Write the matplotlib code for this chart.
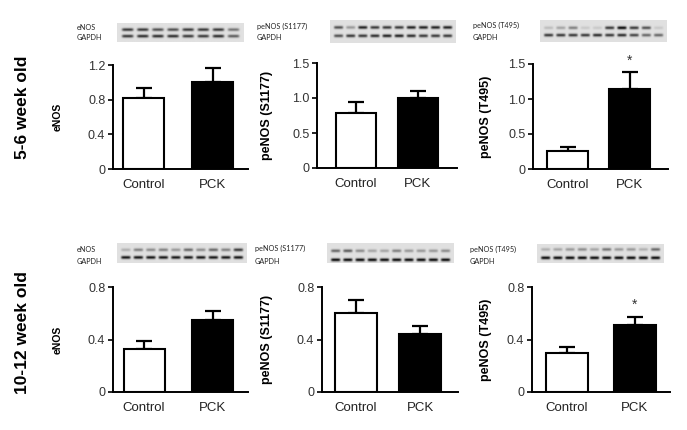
import numpy as np
import matplotlib
matplotlib.use("Agg")
import matplotlib.pyplot as plt

plt.rcParams['font.family'] = ['Liberation Sans', 'DejaVu Sans']

# ---------------- data ----------------
categories = ['Control', 'PCK']

enos_5_6 = [0.82, 1.00]
enos_5_6_err = [0.12, 0.16]
s1177_5_6 = [0.78, 1.00]
s1177_5_6_err = [0.16, 0.10]
t495_5_6 = [0.26, 1.14]
t495_5_6_err = [0.06, 0.25]

enos_10_12 = [0.33, 0.545]
enos_10_12_err = [0.06, 0.075]
s1177_10_12 = [0.60, 0.44]
s1177_10_12_err = [0.10, 0.06]
t495_10_12 = [0.30, 0.51]
t495_10_12_err = [0.04, 0.06]

ylabels = ['eNOS', 'peNOS (S1177)', 'peNOS (T495)']
row_labels = ['5-6 week old', '10-12 week old']
blot_labels = [['eNOS', 'GAPDH'], ['peNOS (S1177)', 'GAPDH'], ['peNOS (T495)', 'GAPDH']]

# band intensities (darkness) per lane
blot_tl_top = [0.70, 0.70, 0.60, 0.60, 0.70, 0.70, 0.70, 0.45]
blot_tl_gapdh = [0.70, 0.75, 0.75, 0.75, 0.70, 0.70, 0.75, 0.55]
blot_tm_top = [0.60, 0.30, 0.80, 0.70, 0.70, 0.70, 0.80, 0.80, 0.80, 0.80]
blot_tm_gapdh = [0.60, 0.70, 0.70, 0.75, 0.80, 0.80, 0.75, 0.70, 0.70, 0.70]
blot_tr_top = [0.15, 0.25, 0.40, 0.10, 0.10, 0.70, 0.90, 0.70, 0.60, 0.10]
blot_tr_gapdh = [0.70, 0.70, 0.70, 0.70, 0.75, 0.70, 0.75, 0.65, 0.50, 0.50]
blot_bl_top = [0.20, 0.40, 0.35, 0.40, 0.30, 0.50, 0.35, 0.50, 0.40, 0.70]
blot_bl_gapdh = [0.85, 0.85, 0.85, 0.85, 0.85, 0.85, 0.85, 0.85, 0.85, 0.85]
blot_bm_top = [0.50, 0.55, 0.35, 0.25, 0.25, 0.40, 0.30, 0.30, 0.30, 0.35]
blot_bm_gapdh = [0.90, 0.90, 0.90, 0.90, 0.90, 0.90, 0.90, 0.90, 0.90, 0.90]
blot_br_top = [0.20, 0.25, 0.30, 0.35, 0.25, 0.45, 0.30, 0.30, 0.20, 0.50]
blot_br_gapdh = [0.90, 0.90, 0.90, 0.90, 0.90, 0.90, 0.90, 0.90, 0.90, 0.90]

# ---------------- layout helpers ----------------
W, H = 687, 430
fig = plt.figure(figsize=(W / 100, H / 100), dpi=100)


def rect(x0, y0, x1, y1):
    return [x0 / W, 1 - y1 / H, (x1 - x0) / W, (y1 - y0) / H]


def bar_panel(ax_px, c0, c1, bw, vals, errs, ylim, yticks, yticklabels,
              ylabel, ylabel_dx, ylabel_size, star=None):
    x0, y0, x1, y1 = ax_px
    ax = fig.add_axes(rect(x0, y0, x1, y1))
    sep = c1 - c0
    ax.set_xlim(-(c0 - x0) / sep, 1 + (x1 - c1) / sep)
    ax.set_ylim(*ylim)
    xs = np.arange(len(categories))
    ax.bar(xs, vals, width=bw / sep, color=['white', 'black'],
           edgecolor='black', linewidth=1.5, zorder=2)
    ax.errorbar(xs, vals, yerr=[np.zeros(len(vals)), errs], fmt='none',
                ecolor='black', elinewidth=1.6, capsize=6, capthick=1.6, zorder=1)
    for s in ['top', 'right']:
        ax.spines[s].set_visible(False)
    for s in ['left', 'bottom']:
        ax.spines[s].set_linewidth(1.4)
    ax.set_yticks(yticks)
    ax.set_yticklabels(yticklabels, fontsize=9, color='#333333')
    ax.tick_params(axis='y', length=3.5, width=1.2, pad=2)
    ax.set_xticks(xs)
    ax.set_xticklabels(categories, fontsize=9.5, color='#222222')
    ax.tick_params(axis='x', length=0, pad=7)
    ax.set_ylabel(ylabel, fontsize=ylabel_size, fontweight='bold')
    ax.yaxis.set_label_coords(-ylabel_dx / (x1 - x0), 0.5)
    if star is not None:
        ax.text(1, star, '*', ha='center', va='center', fontsize=10,
                color='#333333', clip_on=False)
    return ax


def blot(blot_px, top, gapdh, top_y, gapdh_y):
    x0, y0, x1, y1 = blot_px
    ax = fig.add_axes(rect(x0, y0, x1, y1))
    ax.set_axis_off()
    ww, hh = (x1 - x0) * 4, (y1 - y0) * 4
    img = np.full((hh, ww), 0.88)
    xx = np.arange(ww)[None, :]
    yy = np.arange(hh)[:, None]
    n = len(top)
    lane_w = ww / (n + 0.4)
    for band, yc in ((top, top_y), (gapdh, gapdh_y)):
        ycp = (yc - y0) * 4
        for i, d in enumerate(band):
            cx = lane_w * (0.7 + i)
            prof_x = np.exp(-((xx - cx) / (lane_w * 0.38)) ** 6)
            prof_y = np.exp(-((yy - ycp) / 6.0) ** 2)
            img -= 0.95 * d * prof_x * prof_y
    img = np.clip(img, 0, 1)
    ax.imshow(img, cmap='gray', vmin=0, vmax=1, aspect='auto',
              interpolation='bilinear')
    return ax


def blot_text(x, y, s):
    fig.text(x / W, 1 - y / H, s, fontsize=5.2, ha='left', va='center',
             family=['Lato', 'DejaVu Sans'], color='#222222')


# ---------------- row 1 ----------------
blot((117, 23, 243, 42), blot_tl_top, blot_tl_gapdh, 29.5, 36)
blot((330, 20, 456, 43), blot_tm_top, blot_tm_gapdh, 27.3, 35.7)
blot((540, 20, 667, 42), blot_tr_top, blot_tr_gapdh, 27.7, 35)
blot_text(77, 27, blot_labels[0][0]); blot_text(77, 38, blot_labels[0][1])
blot_text(257, 26, blot_labels[1][0]); blot_text(257, 37, blot_labels[1][1])
blot_text(473, 25, blot_labels[2][0]); blot_text(473, 37, blot_labels[2][1])

bar_panel((113, 65, 248, 169), 143.5, 212.5, 41, enos_5_6, enos_5_6_err,
          (0, 1.2), [0, 0.4, 0.8, 1.2], ['0', '0.4', '0.8', '1.2'],
          ylabels[0], 50, 7.5)
bar_panel((317, 63, 457, 168), 356, 417.5, 40, s1177_5_6, s1177_5_6_err,
          (0, 1.5), [0, 0.5, 1.0, 1.5], ['0', '0.5', '1.0', '1.5'],
          ylabels[1], 44, 9)
bar_panel((533, 64, 668, 169), 567.5, 629.5, 41, t495_5_6, t495_5_6_err,
          (0, 1.5), [0, 0.5, 1.0, 1.5], ['0', '0.5', '1.0', '1.5'],
          ylabels[2], 41, 9, star=1.55)

# ---------------- row 2 ----------------
blot((117, 243, 247, 263), blot_bl_top, blot_bl_gapdh, 249.7, 257.3)
blot((327, 243, 454, 263), blot_bm_top, blot_bm_gapdh, 250.7, 259.7)
blot((537, 244, 664, 263), blot_br_top, blot_br_gapdh, 249.3, 257.7)
blot_text(77, 249, blot_labels[0][0]); blot_text(77, 261, blot_labels[0][1])
blot_text(255, 248, blot_labels[1][0]); blot_text(255, 261, blot_labels[1][1])
blot_text(470, 249, blot_labels[2][0]); blot_text(470, 261, blot_labels[2][1])

bar_panel((113, 287, 248, 392), 144, 212.5, 41, enos_10_12, enos_10_12_err,
          (0, 0.8), [0, 0.4, 0.8], ['0', '0.4', '0.8'],
          ylabels[0], 50, 7.5)
bar_panel((322, 287, 458, 392), 355.5, 420, 42, s1177_10_12, s1177_10_12_err,
          (0, 0.8), [0, 0.4, 0.8], ['0', '0.4', '0.8'],
          ylabels[1], 49, 9)
bar_panel((532, 287, 670, 392), 567, 635, 42, t495_10_12, t495_10_12_err,
          (0, 0.8), [0, 0.4, 0.8], ['0', '0.4', '0.8'],
          ylabels[2], 40, 9, star=0.665)

# row labels
fig.text(23 / W, 1 - 107 / H, row_labels[0], rotation=90, fontsize=12.5,
         fontweight='bold', ha='center', va='center')
fig.text(23 / W, 1 - 333 / H, row_labels[1], rotation=90, fontsize=12.5,
         fontweight='bold', ha='center', va='center')

fig.savefig('out.png', dpi=100, facecolor='white')
